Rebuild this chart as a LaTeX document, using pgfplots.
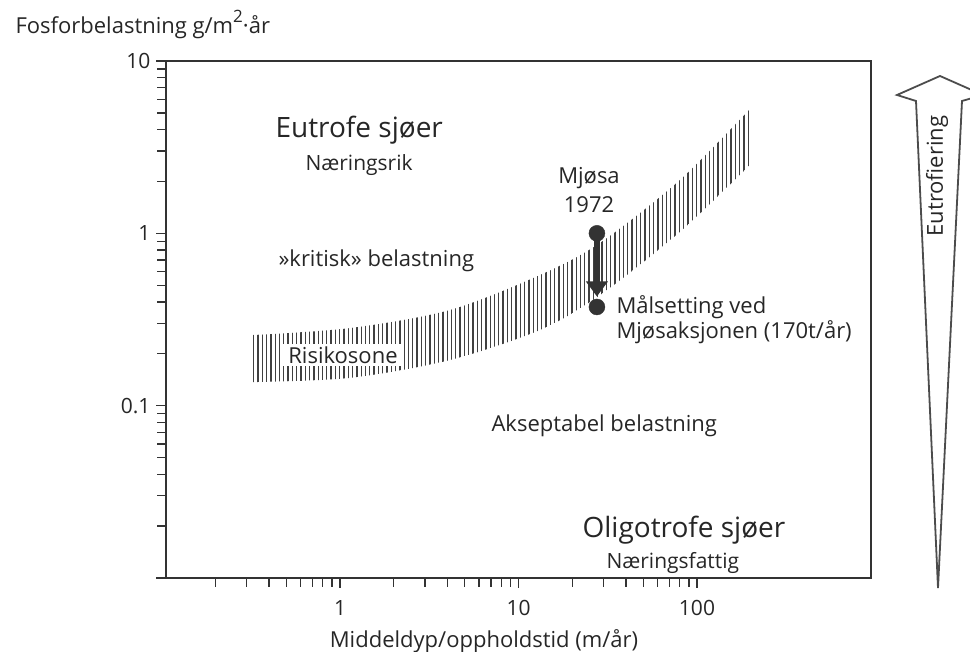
\documentclass[border=0pt]{standalone}
\usepackage{fontspec}
\setmainfont{Open Sans}
\usepackage{pgfplots}
\pgfplotsset{compat=1.18}
\usepgfplotslibrary{fillbetween}
\usetikzlibrary{patterns.meta,arrows.meta}
\newcommand\fsz[1]{\fontsize{#1}{#1}\selectfont}
\begin{document}
\begin{tikzpicture}
\begin{axis}[
  at={(166pt,74pt)}, anchor=south west,
  scale only axis, width=705pt, height=517pt,
  xmode=log, ymode=log,
  xmin=0.1059, xmax=944, ymin=0.01, ymax=10,
  axis line style={line width=1.5pt, black!80},
  tick style={line width=1.4pt, black!80},
  tick align=outside,
  major tick length=10pt, minor tick length=9pt,
  xtick pos=left, ytick pos=left,
  xtick={1,10,100}, xticklabels={1,10,100},
  minor xtick={0.2,0.3,0.4,0.5,0.6,0.7,0.8,0.9,2,3,4,5,6,7,8,9,20,30,40,50,60,70,80,90},
  ytick={0.01,0.1,1,10}, yticklabels={,0.1,1,10},
  minor ytick={0.02,0.03,0.04,0.05,0.06,0.07,0.08,0.09,0.2,0.3,0.4,0.5,0.6,0.7,0.8,0.9,2,3,4,5,6,7,8,9},
  tick label style={font=\fsz{21}, black!85},
  xticklabel style={yshift=-9pt},
  yticklabel style={xshift=-2pt},
  clip=false,
]
\addplot[draw=none, name path=upper, smooth] coordinates {(0.326,0.257) (1.14,0.282) (4.13,0.359) (13.2,0.573) (28.6,0.879) (80.3,2.04) (203,5.41)};
\addplot[draw=none, name path=lower, smooth] coordinates {(0.326,0.137) (1.14,0.145) (4.13,0.184) (13.2,0.275) (28.6,0.438) (80.3,1.02) (203,2.56)};
\addplot[draw=none, pattern={Lines[angle=90,distance=4.3pt,line width=1.3pt]}, pattern color=black!75] fill between[of=upper and lower];
\addplot[black!80, line width=5.5pt, -{Triangle[width=21pt,length=15pt]}] coordinates {(27.5,1.0) (27.5,0.43)};
\addplot[only marks, mark=*, mark size=8pt, black!80] coordinates {(27.5,1.0) (27.5,0.374)};
\end{axis}
\begin{scope}[x=1pt,y=1pt]
\node[anchor=west, font=\fsz{22}, text=black!85] at (12,627) {Fosforbelastning g/m\raisebox{0.5em}{\fsz{17}2}·år};
\node[anchor=west, font=\fsz{28}, text=black!85] at (272,522) {Eutrofe sjøer};
\node[anchor=west, font=\fsz{21}, text=black!85] at (302,487) {Næringsrik};
\node[anchor=base west, font=\fsz{22}, text=black!85] at (275,385) {»kritisk» belastning};
\node[align=center, font=\fontsize{22}{29}\selectfont, text=black!85] at (589,462) {Mjøsa\\1972};
\node[anchor=west, align=left, font=\fontsize{22}{25}\selectfont, text=black!85] at (613,332) {Målsetting ved\\Mjøsaksjonen (170t/år)};
\node[fill=white, inner xsep=5pt, inner ysep=3pt, font=\fsz{22}, text=black!85] at (343,297) {Risikosone};
\node[anchor=west, font=\fsz{22}, text=black!85] at (488,226) {Akseptabel belastning};
\node[anchor=west, font=\fsz{28}, text=black!85] at (579,122) {Oligotrofe sjøer};
\node[anchor=west, font=\fsz{21}, text=black!85] at (603,89) {Næringsfattig};
\node[anchor=base, font=\fsz{22}, text=black!85] at (484,4) {Middeldyp/oppholdstid (m/år)};
\draw[line width=1.8pt, black!70, line join=miter] (940,576) -- (897,557) -- (916,551) -- (938,64) -- (962,551) -- (983,557) -- cycle;
\node[rotate=90, font=\fsz{22}, text=black!85] at (937,476) {Eutrofiering};
\pgfresetboundingbox
\path[use as bounding box] (0,0) rectangle (970,652);
\end{scope}
\end{tikzpicture}
\end{document}
